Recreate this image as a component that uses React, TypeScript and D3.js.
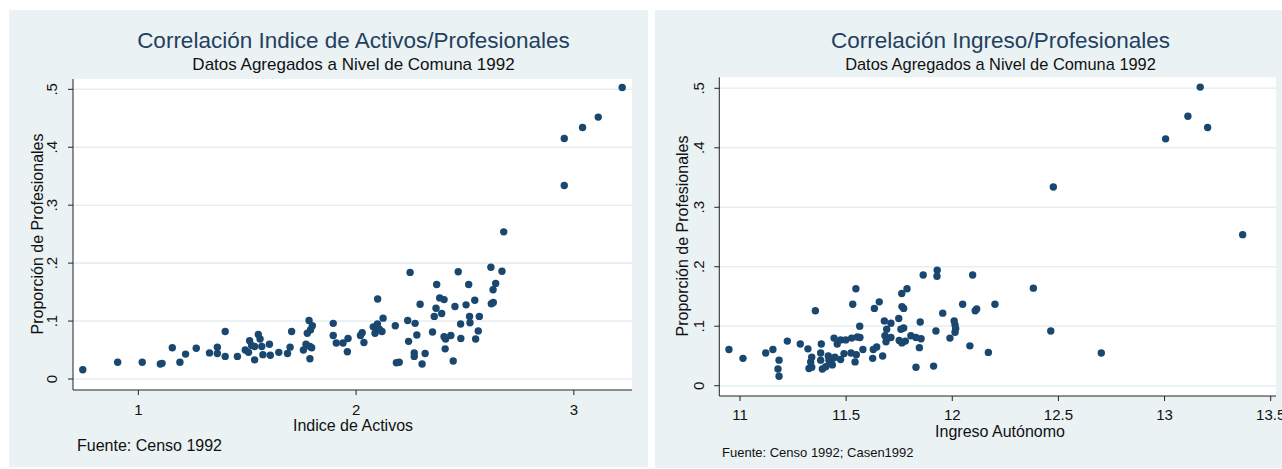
import React from "react";
import * as d3 from "d3";

// Indice de Activos vs Proporción de Profesionales (comunas 1992)
const activosX = [
  0.745, 0.905, 1.018, 1.101, 1.109, 1.156, 1.191, 1.217, 1.266, 1.327,
  1.363, 1.363, 1.399, 1.399, 1.455, 1.491, 1.506, 1.511, 1.520, 1.534,
  1.534, 1.551, 1.559, 1.567, 1.572, 1.602, 1.606, 1.645, 1.685, 1.697,
  1.704, 1.758, 1.770, 1.776, 1.784, 1.788, 1.791, 1.799, 1.788, 1.796,
  1.895, 1.895, 1.909, 1.940, 1.963, 1.960, 2.020, 2.028, 2.036, 2.079,
  2.087, 2.099, 2.098, 2.107, 2.119, 2.124, 2.180, 2.185, 2.198, 2.237,
  2.241, 2.248, 2.267, 2.267, 2.271, 2.279, 2.294, 2.303, 2.317, 2.351,
  2.359, 2.367, 2.370, 2.384, 2.393, 2.404, 2.404, 2.411, 2.409, 2.435,
  2.446, 2.454, 2.469, 2.480, 2.481, 2.505, 2.517, 2.521, 2.523, 2.545,
  2.549, 2.561, 2.566, 2.619, 2.621, 2.630, 2.629, 2.641, 2.670, 2.678,
  2.956, 2.956, 3.040, 3.112, 3.222,
];
const activosY = [
  0.016, 0.029, 0.029, 0.026, 0.027, 0.054, 0.029, 0.043, 0.053, 0.045,
  0.055, 0.044, 0.082, 0.039, 0.039, 0.050, 0.046, 0.066, 0.058, 0.056,
  0.033, 0.077, 0.069, 0.056, 0.042, 0.060, 0.041, 0.046, 0.044, 0.055,
  0.082, 0.050, 0.060, 0.079, 0.101, 0.035, 0.085, 0.092, 0.056, 0.054,
  0.096, 0.075, 0.062, 0.062, 0.070, 0.047, 0.075, 0.080, 0.063, 0.090,
  0.079, 0.138, 0.095, 0.086, 0.082, 0.105, 0.092, 0.028, 0.029, 0.101,
  0.065, 0.184, 0.045, 0.039, 0.096, 0.076, 0.129, 0.026, 0.044, 0.081,
  0.108, 0.122, 0.163, 0.140, 0.113, 0.137, 0.073, 0.069, 0.052, 0.075,
  0.031, 0.125, 0.185, 0.095, 0.070, 0.128, 0.163, 0.108, 0.097, 0.136,
  0.069, 0.083, 0.108, 0.193, 0.130, 0.132, 0.154, 0.165, 0.186, 0.254,
  0.415, 0.334, 0.434, 0.452, 0.503,
];

// Ingreso Autónomo vs Proporción de Profesionales
const ingresoX = [
  10.948, 11.014, 11.121, 11.155, 11.184, 11.179, 11.184, 11.223, 11.284, 11.320,
  11.355, 11.338, 11.333, 11.325, 11.338, 11.383, 11.380, 11.380, 11.388, 11.404,
  11.416, 11.419, 11.427, 11.439, 11.443, 11.458, 11.435, 11.447, 11.474, 11.474,
  11.498, 11.490, 11.526, 11.523, 11.531, 11.546, 11.553, 11.564, 11.565, 11.579,
  11.542, 11.548, 11.628, 11.625, 11.644, 11.672, 11.633, 11.656, 11.680, 11.691,
  11.683, 11.688, 11.711, 11.711, 11.748, 11.758, 11.771, 11.750, 11.763, 11.779,
  11.762, 11.787, 11.763, 11.771, 11.805, 11.829, 11.853, 11.845, 11.849, 11.863,
  11.829, 11.912, 11.923, 11.929, 11.928, 11.955, 11.989, 12.009, 12.013, 12.016,
  12.013, 12.049, 12.096, 12.108, 12.115, 12.083, 12.170, 12.201, 12.382, 12.464,
  12.476, 12.702, 13.005, 13.110, 13.168, 13.203, 13.368,
];
const ingresoY = [
  0.061, 0.046, 0.055, 0.061, 0.043, 0.028, 0.016, 0.075, 0.070, 0.062,
  0.126, 0.048, 0.040, 0.029, 0.031, 0.070, 0.055, 0.043, 0.028, 0.032,
  0.050, 0.043, 0.039, 0.046, 0.080, 0.070, 0.035, 0.048, 0.044, 0.077,
  0.077, 0.054, 0.080, 0.055, 0.137, 0.163, 0.082, 0.100, 0.081, 0.061,
  0.040, 0.052, 0.061, 0.046, 0.065, 0.050, 0.130, 0.141, 0.109, 0.095,
  0.084, 0.074, 0.105, 0.081, 0.113, 0.095, 0.097, 0.076, 0.072, 0.075,
  0.155, 0.163, 0.133, 0.130, 0.084, 0.081, 0.079, 0.064, 0.107, 0.186,
  0.031, 0.033, 0.092, 0.194, 0.184, 0.122, 0.080, 0.109, 0.102, 0.096,
  0.090, 0.137, 0.186, 0.126, 0.129, 0.067, 0.056, 0.137, 0.164, 0.092,
  0.334, 0.055, 0.415, 0.453, 0.502, 0.434, 0.254,
];

const yTicks = [0, 0.1, 0.2, 0.3, 0.4, 0.5];
const yTickLabels = ["0", ".1", ".2", ".3", ".4", ".5"];
const activosTicks = [1, 2, 3];
const ingresoTicks = [11, 11.5, 12, 12.5, 13, 13.5];

const FONT = "'Liberation Sans', Arial, Helvetica, sans-serif";
const BG = "#eaf2f3";
const GRID = "#e6eef0";
const NAVY = "#1a476f";

function Panel(props: any) {
  const p = props;
  const x = d3.scaleLinear().domain(p.xDomain).range([p.left, p.right]);
  const y = d3.scaleLinear().domain(p.yDomain).range([p.bottom, p.top]);
  const pts = d3.zip(p.xs, p.ys) as [number, number][];
  return (
    <g>
      <rect x={p.bx} y={p.by} width={p.bw} height={p.bh} fill={BG} />
      <rect x={p.left} y={p.top} width={p.right - p.left} height={p.bottom - p.top} fill="#fff" />
      {yTicks.map((t) => (
        <line key={"g" + t} x1={p.left} x2={p.right} y1={y(t)} y2={y(t)} stroke={GRID} strokeWidth={1.6} />
      ))}
      {pts.map((d, i) => (
        <circle key={i} cx={x(d[0])} cy={y(d[1])} r={3.7} fill={NAVY} />
      ))}
      <line x1={p.left} x2={p.left} y1={p.top} y2={p.bottom} stroke="#222" strokeWidth={1} />
      <line x1={p.left} x2={p.right} y1={p.bottom} y2={p.bottom} stroke="#222" strokeWidth={1} />
      {yTicks.map((t, i) => (
        <g key={"y" + t}>
          <line x1={p.left - 5} x2={p.left} y1={y(t)} y2={y(t)} stroke="#222" />
          <text
            transform={`translate(${p.yLabelX},${y(t)}) rotate(-90)`}
            textAnchor="middle"
            dy="0.36em"
            fontSize={p.tickSize}
            fontFamily={FONT}
            fill="#111"
          >
            {yTickLabels[i]}
          </text>
        </g>
      ))}
      {p.xTicks.map((t: number) => (
        <g key={"x" + t}>
          <line x1={x(t)} x2={x(t)} y1={p.bottom} y2={p.bottom + 5} stroke="#222" />
          <text x={x(t)} y={p.xLabelY} textAnchor="middle" fontSize={p.tickSize} fontFamily={FONT} fill="#111">
            {String(t)}
          </text>
        </g>
      ))}
      <text
        transform={`translate(${p.yTitleX},${p.yTitleY}) rotate(-90)`}
        textAnchor="middle"
        dy="0.36em"
        fontSize={16}
        fontFamily={FONT}
        fill="#111"
      >
        Proporción de Profesionales
      </text>
      <text x={p.titleX} y={48} textAnchor="middle" fontSize={22.5} fontFamily={FONT} fill="#24405e">
        {p.title}
      </text>
      <text x={p.titleX} y={70} textAnchor="middle" fontSize={p.subSize} fontFamily={FONT} fill="#111">
        Datos Agregados a Nivel de Comuna 1992
      </text>
      <text x={p.xTitleX} y={p.xTitleY} textAnchor="middle" fontSize={16} fontFamily={FONT} fill="#111">
        {p.xTitle}
      </text>
      <text x={p.noteX} y={p.noteY} fontSize={p.noteSize} fontFamily={FONT} fill="#111">
        {p.note}
      </text>
    </g>
  );
}

export default function App() {
  return (
    <svg
      width={1282}
      height={469}
      style={{ position: "absolute", left: 0, top: 0, background: "#fff" }}
    >
      <Panel
        bx={9} by={10} bw={639} bh={457}
        left={73} right={632} top={79} bottom={390}
        xDomain={[0.7, 3.267]} yDomain={[-0.019, 0.5178]}
        xs={activosX} ys={activosY}
        xTicks={activosTicks}
        tickSize={15}
        yLabelX={52} yTitleX={37} yTitleY={234}
        xLabelY={415}
        titleX={353.5} subSize={17}
        title="Correlación Indice de Activos/Profesionales"
        xTitle="Indice de Activos" xTitleX={353} xTitleY={431}
        note="Fuente: Censo 1992" noteX={77} noteY={451} noteSize={16}
      />
      <Panel
        bx={655} by={10} bw={627} bh={458}
        left={719.3} right={1276} top={77.3} bottom={396}
        xDomain={[10.9025, 13.525]} yDomain={[-0.0173, 0.5185]}
        xs={ingresoX} ys={ingresoY}
        xTicks={ingresoTicks}
        tickSize={15}
        yLabelX={699} yTitleX={682} yTitleY={236}
        xLabelY={420}
        titleX={1000.5} subSize={16.4}
        title="Correlación Ingreso/Profesionales"
        xTitle="Ingreso Autónomo" xTitleX={1000} xTitleY={437}
        note="Fuente: Censo 1992; Casen1992" noteX={722} noteY={457} noteSize={13}
      />
    </svg>
  );
}
